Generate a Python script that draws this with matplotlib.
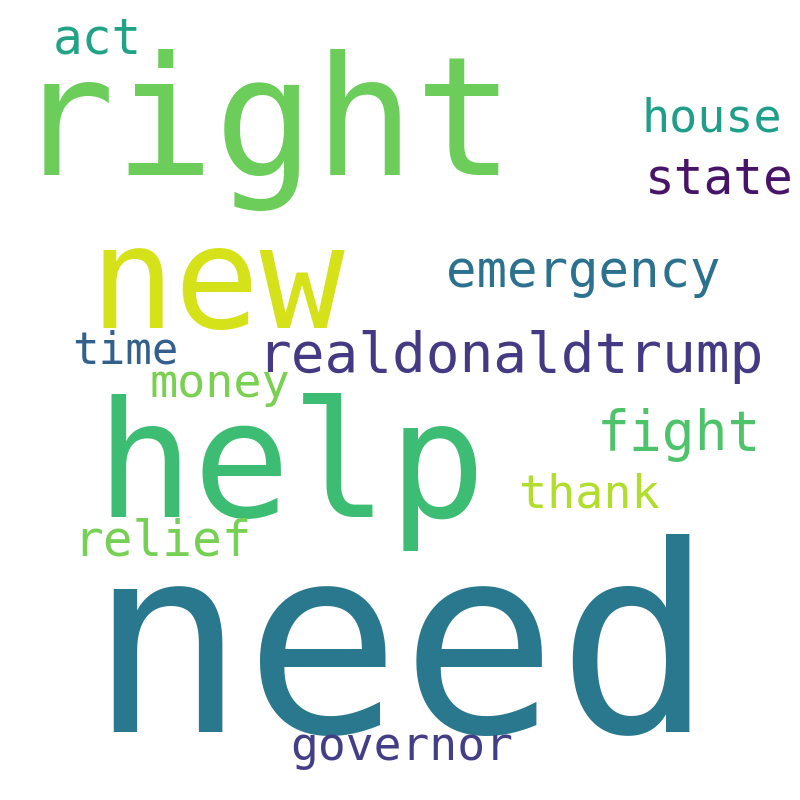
import matplotlib.pyplot as plt

# palabras y frecuencia relativa (la mayor = 1)
palabras = ["need", "right", "help", "new", "realdonaldtrump", "fight",
            "emergency", "state", "act", "relief", "thank", "governor",
            "house", "money", "time"]
frecuencias = [1.0, 0.64, 0.625, 0.545, 0.216, 0.21,
               0.195, 0.19, 0.19, 0.19, 0.18, 0.178,
               0.18, 0.18, 0.17]

# posicion de cada palabra en pixeles (centro x, linea base y)
pos_x = [401, 265, 291, 217, 510, 679, 583, 719, 97, 163, 589, 402, 712, 220, 125]
pos_y = [732, 175, 517, 328, 372, 450, 287, 193, 54, 556, 507, 760, 132, 397, 364]
colores = ["#2a788e", "#6ccd5a", "#3dbc74", "#d5e21a", "#443a83", "#4ec36b",
           "#2c728e", "#481467", "#22a386", "#75d054", "#b2dd2c", "#433e85",
           "#1f9e89", "#7ad151", "#33608d"]

tam_max = 187  # puntos para la palabra mas frecuente

fig = plt.figure(figsize=(8, 8), dpi=100)
ax = fig.add_axes([0, 0, 1, 1])
ax.set_xlim(0, 800)
ax.set_ylim(800, 0)
ax.axis("off")

for palabra, f, x, y, c in zip(palabras, frecuencias, pos_x, pos_y, colores):
    ax.text(x, y, palabra, fontsize=f * tam_max, color=c,
            family="DejaVu Sans Mono", ha="center", va="baseline")

fig.savefig("out.png", dpi=100, facecolor="white")
